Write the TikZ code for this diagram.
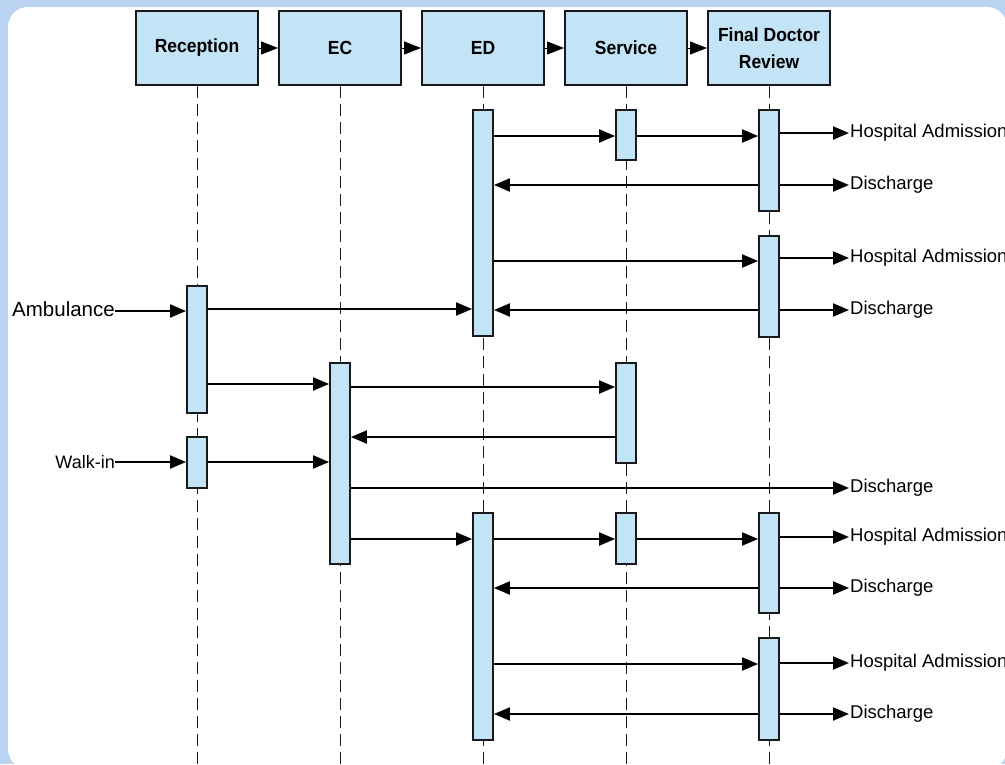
\documentclass[tikz,border=0pt]{standalone}
\usepackage{fontspec}
\setmainfont{Liberation Sans}
\newfontfamily\hdrfont[FakeStretch=0.92]{Liberation Sans}
\usetikzlibrary{arrows.meta}
\definecolor{bgblue}{HTML}{B9D3F1}
\definecolor{lblue}{HTML}{C3E3F6}
\definecolor{ink}{HTML}{1A1A1A}
\tikzset{
  hdr/.style={draw=ink, fill=lblue, line width=2pt, minimum width=122pt, minimum height=74pt, inner sep=0pt, align=center, font=\hdrfont\fontsize{19}{27}\selectfont\bfseries},
  bar/.style={draw=ink, fill=lblue, line width=1.8pt, minimum width=20pt, inner sep=0pt},
  life/.style={draw=ink, line width=1pt, dash pattern=on 12pt off 6pt},
  msg/.style={draw=black, line width=2pt, -{Triangle[length=16pt,width=13pt]}},
  hmsg/.style={draw=black, line width=1pt, -{Triangle[length=17pt,width=13pt]}},
  lbl/.style={inner sep=1pt, font=\fontsize{18.5}{20}\selectfont},
}
\begin{document}
\begin{tikzpicture}[x=1pt,y=-1pt]
\useasboundingbox (0,0) rectangle (1005,764);
\fill[bgblue] (0,0) rectangle (1005,764);
\fill[white, rounded corners=20pt] (8,7) rectangle (1007,769);

% headers
\node[hdr] (rec) at (197,48) {Reception};
\node[hdr] (ec)  at (340,48) {EC};
\node[hdr] (ed)  at (483,48) {ED};
\node[hdr] (sv)  at (626,48) {Service};
\node[hdr] (fd)  at (769,48) {Final Doctor\\Review};

\draw[hmsg] (rec.east) -- (ec.west);
\draw[hmsg] (ec.east) -- (ed.west);
\draw[hmsg] (ed.east) -- (sv.west);
\draw[hmsg] (sv.east) -- (fd.west);

% lifelines
\foreach \n/\x in {rec/197,ec/340,ed/483,sv/626,fd/769}
  \draw[life] (\n.south) -- (\x,764);

% activation bars
\node[bar, minimum height=127pt] (rc1) at (197,349.5) {};
\node[bar, minimum height=51pt]  (rc2) at (197,462.5) {};
\node[bar, minimum height=201pt] (ec1) at (340,463.5) {};
\node[bar, minimum height=226pt] (ed1) at (483,223) {};
\node[bar, minimum height=227pt] (ed2) at (483,626.5) {};
\node[bar, minimum height=50pt]  (sv1) at (626,135) {};
\node[bar, minimum height=100pt] (sv2) at (626,413) {};
\node[bar, minimum height=51pt]  (sv3) at (626,538.5) {};
\node[bar, minimum height=101pt] (fd1) at (769,160.5) {};
\node[bar, minimum height=101pt] (fd2) at (769,286.5) {};
\node[bar, minimum height=100pt] (fd3) at (769,563) {};
\node[bar, minimum height=102pt] (fd4) at (769,689) {};

% outcome labels
\node[lbl, anchor=west] (ha1) at (849,133) {Hospital Admission};
\node[lbl, anchor=west] (dc1) at (849,185) {Discharge};
\node[lbl, anchor=west] (ha2) at (849,258) {Hospital Admission};
\node[lbl, anchor=west] (dc2) at (849,310) {Discharge};
\node[lbl, anchor=west] (dc3) at (849,488) {Discharge};
\node[lbl, anchor=west] (ha3) at (849,537) {Hospital Admission};
\node[lbl, anchor=west] (dc4) at (849,588) {Discharge};
\node[lbl, anchor=west] (ha4) at (849,663) {Hospital Admission};
\node[lbl, anchor=west] (dc5) at (849,714) {Discharge};

% entry labels
\node[inner sep=0pt, anchor=east, font=\fontsize{20.5}{22}\selectfont] (amb) at (115,309) {Ambulance};
\node[inner sep=0pt, anchor=east, font=\fontsize{18}{20}\selectfont] (walk) at (115,462) {Walk-in};

% messages - top block
\draw[msg] (ed1.east |- 0,136) -- (sv1.west |- 0,136);
\draw[msg] (sv1.east |- 0,136) -- (fd1.west |- 0,136);
\draw[msg] (fd1.east |- 0,133) -- (ha1.west);
\draw[msg] (fd1.west |- 0,185) -- (ed1.east |- 0,185);
\draw[msg] (fd1.east |- 0,185) -- (dc1.west);
\draw[msg] (ed1.east |- 0,261) -- (fd2.west |- 0,261);
\draw[msg] (fd2.east |- 0,258) -- (ha2.west);
\draw[msg] (fd2.west |- 0,310) -- (ed1.east |- 0,310);
\draw[msg] (fd2.east |- 0,310) -- (dc2.west);

% entries
\draw[msg] (amb.east |- 0,311) -- (rc1.west |- 0,311);
\draw[msg] (rc1.east |- 0,309) -- (ed1.west |- 0,309);
\draw[msg] (rc1.east |- 0,384) -- (ec1.west |- 0,384);
\draw[msg] (walk.east |- 0,462) -- (rc2.west |- 0,462);
\draw[msg] (rc2.east |- 0,462) -- (ec1.west |- 0,462);

% EC block
\draw[msg] (ec1.east |- 0,387) -- (sv2.west |- 0,387);
\draw[msg] (sv2.west |- 0,437) -- (ec1.east |- 0,437);
\draw[msg] (ec1.east |- 0,488) -- (dc3.west);
\draw[msg] (ec1.east |- 0,539) -- (ed2.west |- 0,539);

% bottom block
\draw[msg] (ed2.east |- 0,539) -- (sv3.west |- 0,539);
\draw[msg] (sv3.east |- 0,539) -- (fd3.west |- 0,539);
\draw[msg] (fd3.east |- 0,537) -- (ha3.west);
\draw[msg] (fd3.west |- 0,588) -- (ed2.east |- 0,588);
\draw[msg] (fd3.east |- 0,588) -- (dc4.west);
\draw[msg] (ed2.east |- 0,664) -- (fd4.west |- 0,664);
\draw[msg] (fd4.east |- 0,663) -- (ha4.west);
\draw[msg] (fd4.west |- 0,714) -- (ed2.east |- 0,714);
\draw[msg] (fd4.east |- 0,714) -- (dc5.west);
\end{tikzpicture}
\end{document}
